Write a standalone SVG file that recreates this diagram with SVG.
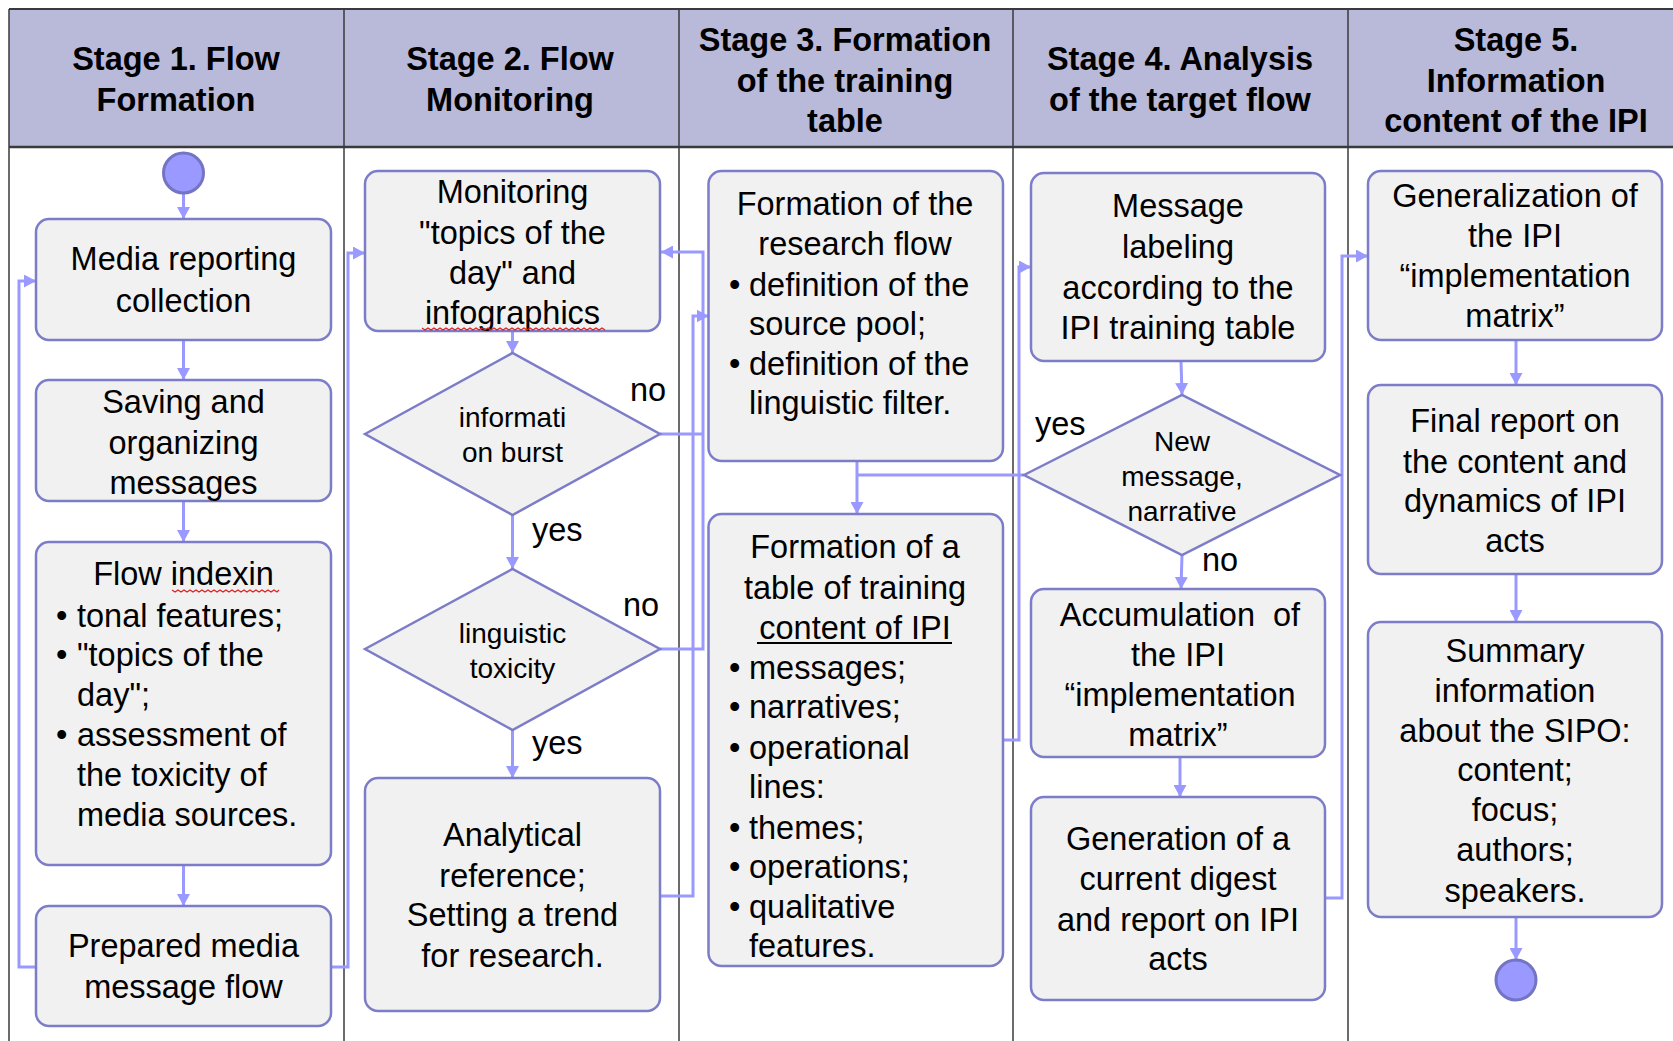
<svg xmlns="http://www.w3.org/2000/svg" width="1673" height="1041" viewBox="0 0 1673 1041">
<style>
.hdr{fill:#b9b9d9}
.lane{stroke:#3a3a3a;stroke-width:1.5;fill:none}
.box{fill:#f1f1f1;stroke:#7c7cc8;stroke-width:2.5}
.conn{fill:none;stroke:#9999ff;stroke-width:3}
.t{font-family:"Liberation Sans",Arial,sans-serif;font-size:32.5px;fill:#000}
.h{font-weight:bold}
.m{text-anchor:middle}
.d{font-size:28px}
.circ{fill:#9999ff;stroke:#7474c4;stroke-width:3}
.spell{fill:none;stroke:#e02020;stroke-width:1.2}
</style>
<defs>
<marker id="arr" viewBox="0 0 12 13" refX="12" refY="6.5" markerWidth="12" markerHeight="13" markerUnits="userSpaceOnUse" orient="auto">
<path d="M0,0 L12,6.5 L0,13 z" fill="#9999ff"/>
</marker>
</defs>
<rect width="1673" height="1041" fill="#ffffff"/>
<g id="swimlanes">
<rect class="hdr" x="9" y="9" width="1664" height="138"/>
<line class="lane" x1="9" y1="9" x2="1673" y2="9" style="stroke-width:2"/>
<line class="lane" x1="9" y1="147" x2="1673" y2="147" style="stroke-width:2.5"/>
<line class="lane" x1="9" y1="9" x2="9" y2="1041"/>
<line class="lane" x1="344" y1="9" x2="344" y2="1041"/>
<line class="lane" x1="679" y1="9" x2="679" y2="1041"/>
<line class="lane" x1="1013" y1="9" x2="1013" y2="1041"/>
<line class="lane" x1="1348" y1="9" x2="1348" y2="1041"/>
<text class="t h m" x="176" y="70">Stage 1. Flow</text>
<text class="t h m" x="176" y="111">Formation</text>
<text class="t h m" x="510" y="70">Stage 2. Flow</text>
<text class="t h m" x="510" y="111">Monitoring</text>
<text class="t h m" x="845" y="51">Stage 3. Formation</text>
<text class="t h m" x="845" y="92">of the training</text>
<text class="t h m" x="845" y="132">table</text>
<text class="t h m" x="1180" y="70">Stage 4. Analysis</text>
<text class="t h m" x="1180" y="111">of the target flow</text>
<text class="t h m" x="1516" y="51">Stage 5.</text>
<text class="t h m" x="1516" y="92">Information</text>
<text class="t h m" x="1516" y="132">content of the IPI</text>
</g>
<g id="connectors">
<path class="conn" d="M183.5 193 V219" marker-end="url(#arr)"/>
<path class="conn" d="M183.5 340 V380" marker-end="url(#arr)"/>
<path class="conn" d="M183.5 501 V542" marker-end="url(#arr)"/>
<path class="conn" d="M183.5 865 V906" marker-end="url(#arr)"/>
<path class="conn" d="M36 967 H19 V281 H36" marker-end="url(#arr)"/>
<path class="conn" d="M331 967 H348 V253 H365" marker-end="url(#arr)"/>
<path class="conn" d="M512.5 331 V353" marker-end="url(#arr)"/>
<path class="conn" d="M512.5 515 V569" marker-end="url(#arr)"/>
<path class="conn" d="M512.5 730 V778" marker-end="url(#arr)"/>
<path class="conn" d="M660 434 H703"/>
<path class="conn" d="M660 649 H703 V252 H661" marker-end="url(#arr)"/>
<path class="conn" d="M660 896 H693 V316 H708.5" marker-end="url(#arr)"/>
<path class="conn" d="M857 461 V514" marker-end="url(#arr)"/>
<path class="conn" d="M1024 475 H857"/>
<path class="conn" d="M1003 740 H1019 V267 H1031" marker-end="url(#arr)"/>
<path class="conn" d="M1181 361 L1182 395" marker-end="url(#arr)"/>
<path class="conn" d="M1182 555 L1181 589" marker-end="url(#arr)"/>
<path class="conn" d="M1180 757 V797" marker-end="url(#arr)"/>
<path class="conn" d="M1325 898 H1342 V256 H1368" marker-end="url(#arr)"/>
<path class="conn" d="M1516 340 V385" marker-end="url(#arr)"/>
<path class="conn" d="M1516 574 V622" marker-end="url(#arr)"/>
<path class="conn" d="M1516 917 V960" marker-end="url(#arr)"/>
<text class="t" x="532" y="541">yes</text>
<text class="t" x="532" y="754">yes</text>
<text class="t" x="630" y="401">no</text>
<text class="t" x="623" y="616">no</text>
<text class="t" x="1035" y="435">yes</text>
<text class="t" x="1202" y="571">no</text>
</g>
<g id="start"><circle class="circ" cx="183.5" cy="173" r="20"/></g>
<g id="media-collection">
<rect class="box" x="36" y="219" width="295" height="121" rx="13"/>
<text class="t m" x="183.5" y="270">Media reporting</text>
<text class="t m" x="183.5" y="312">collection</text>
</g>
<g id="saving">
<rect class="box" x="36" y="380" width="295" height="121" rx="13"/>
<text class="t m" x="183.5" y="413">Saving and</text>
<text class="t m" x="183.5" y="454">organizing</text>
<text class="t m" x="183.5" y="494">messages</text>
</g>
<g id="indexing">
<rect class="box" x="36" y="542" width="295" height="323" rx="13"/>
<text class="t m" x="183.5" y="585">Flow indexin</text>
<polyline class="spell" points="172,590 175,592 178,590 181,592 184,590 187,592 190,590 193,592 196,590 199,592 202,590 205,592 208,590 211,592 214,590 217,592 220,590 223,592 226,590 229,592 232,590 235,592 238,590 241,592 244,590 247,592 250,590 253,592 256,590 259,592 262,590 265,592 268,590 271,592 274,590 277,592 279,590"/>
<text class="t" x="56" y="627">•</text><text class="t" x="77" y="627">tonal features;</text>
<text class="t" x="56" y="666">•</text><text class="t" x="77" y="666">"topics of the</text>
<text class="t" x="77" y="706">day";</text>
<text class="t" x="56" y="746">•</text><text class="t" x="77" y="746">assessment of</text>
<text class="t" x="77" y="786">the toxicity of</text>
<text class="t" x="77" y="826">media sources.</text>
</g>
<g id="prepared-flow">
<rect class="box" x="36" y="906" width="295" height="120" rx="13"/>
<text class="t m" x="183.5" y="957">Prepared media</text>
<text class="t m" x="183.5" y="998">message flow</text>
</g>
<g id="monitoring">
<rect class="box" x="365" y="171" width="295" height="160" rx="13"/>
<text class="t m" x="512.5" y="203">Monitoring</text>
<text class="t m" x="512.5" y="244">"topics of the</text>
<text class="t m" x="512.5" y="284">day" and</text>
<text class="t m" x="512.5" y="324">infographics</text>
<polyline class="spell" points="422,328 425,330 428,328 431,330 434,328 437,330 440,328 443,330 446,328 449,330 452,328 455,330 458,328 461,330 464,328 467,330 470,328 473,330 476,328 479,330 482,328 485,330 488,328 491,330 494,328 497,330 500,328 503,330 506,328 509,330 512,328 515,330 518,328 521,330 524,328 527,330 530,328 533,330 536,328 539,330 542,328 545,330 548,328 551,330 554,328 557,330 560,328 563,330 566,328 569,330 572,328 575,330 578,328 581,330 584,328 587,330 590,328 593,330 596,328 599,330 602,328 605,330"/>
</g>
<g id="info-burst">
<polygon class="box" points="365,434 512.5,353 660,434 512.5,515"/>
<text class="t d m" x="512.5" y="427">informati</text>
<text class="t d m" x="512.5" y="462">on burst</text>
</g>
<g id="toxicity">
<polygon class="box" points="365,649 512.5,569 660,649 512.5,730"/>
<text class="t d m" x="512.5" y="643">linguistic</text>
<text class="t d m" x="512.5" y="678">toxicity</text>
</g>
<g id="analytical">
<rect class="box" x="365" y="778" width="295" height="233" rx="13"/>
<text class="t m" x="512.5" y="846">Analytical</text>
<text class="t m" x="512.5" y="887">reference;</text>
<text class="t m" x="512.5" y="926">Setting a trend</text>
<text class="t m" x="512.5" y="967">for research.</text>
</g>
<g id="research-flow">
<rect class="box" x="708.5" y="171" width="294.5" height="290" rx="13"/>
<text class="t m" x="855" y="215">Formation of the</text>
<text class="t m" x="855" y="255">research flow</text>
<text class="t" x="729" y="296">•</text><text class="t" x="749" y="296">definition of the</text>
<text class="t" x="749" y="335">source pool;</text>
<text class="t" x="729" y="375">•</text><text class="t" x="749" y="375">definition of the</text>
<text class="t" x="749" y="414">linguistic filter.</text>
</g>
<g id="training-table">
<rect class="box" x="708.5" y="514" width="294.5" height="452" rx="13"/>
<text class="t m" x="855" y="558">Formation of a</text>
<text class="t m" x="855" y="599">table of training</text>
<text class="t m" x="855" y="639">content of IPI</text>
<line x1="757" y1="643" x2="952" y2="643" stroke="#000" stroke-width="2"/>
<text class="t" x="729" y="679">•</text><text class="t" x="749" y="679">messages;</text>
<text class="t" x="729" y="718">•</text><text class="t" x="749" y="718">narratives;</text>
<text class="t" x="729" y="759">•</text><text class="t" x="749" y="759">operational</text>
<text class="t" x="749" y="798">lines:</text>
<text class="t" x="729" y="839">•</text><text class="t" x="749" y="839">themes;</text>
<text class="t" x="729" y="878">•</text><text class="t" x="749" y="878">operations;</text>
<text class="t" x="729" y="918">•</text><text class="t" x="749" y="918">qualitative</text>
<text class="t" x="749" y="957">features.</text>
</g>
<g id="labeling">
<rect class="box" x="1031" y="173" width="294" height="188" rx="13"/>
<text class="t m" x="1178" y="217">Message</text>
<text class="t m" x="1178" y="258">labeling</text>
<text class="t m" x="1178" y="299">according to the</text>
<text class="t m" x="1178" y="339">IPI training table</text>
</g>
<g id="new-message">
<polygon class="box" points="1024,475 1182,395 1340,475 1182,555"/>
<text class="t d m" x="1182" y="451">New</text>
<text class="t d m" x="1182" y="486">message,</text>
<text class="t d m" x="1182" y="521">narrative</text>
</g>
<g id="accumulation">
<rect class="box" x="1031" y="589" width="294" height="168" rx="13"/>
<text class="t m" x="1180" y="626" xml:space="preserve">Accumulation  of</text>
<text class="t m" x="1178" y="666">the IPI</text>
<text class="t m" x="1180" y="706">“implementation</text>
<text class="t m" x="1178" y="746">matrix”</text>
</g>
<g id="digest">
<rect class="box" x="1031" y="797" width="294" height="203" rx="13"/>
<text class="t m" x="1178" y="850">Generation of a</text>
<text class="t m" x="1178" y="890">current digest</text>
<text class="t m" x="1178" y="931">and report on IPI</text>
<text class="t m" x="1178" y="970">acts</text>
</g>
<g id="generalization">
<rect class="box" x="1368" y="171" width="294" height="169" rx="13"/>
<text class="t m" x="1515" y="207">Generalization of</text>
<text class="t m" x="1515" y="247">the IPI</text>
<text class="t m" x="1515" y="287">“implementation</text>
<text class="t m" x="1515" y="327">matrix”</text>
</g>
<g id="final-report">
<rect class="box" x="1368" y="385" width="294" height="189" rx="13"/>
<text class="t m" x="1515" y="432">Final report on</text>
<text class="t m" x="1515" y="473">the content and</text>
<text class="t m" x="1515" y="512">dynamics of IPI</text>
<text class="t m" x="1515" y="552">acts</text>
</g>
<g id="summary">
<rect class="box" x="1368" y="622" width="294" height="295" rx="13"/>
<text class="t m" x="1515" y="662">Summary</text>
<text class="t m" x="1515" y="702">information</text>
<text class="t m" x="1515" y="742">about the SIPO:</text>
<text class="t m" x="1515" y="781">content;</text>
<text class="t m" x="1515" y="821">focus;</text>
<text class="t m" x="1515" y="861">authors;</text>
<text class="t m" x="1515" y="902">speakers.</text>
</g>
<g id="end"><circle class="circ" cx="1516" cy="980" r="20"/></g>
</svg>
